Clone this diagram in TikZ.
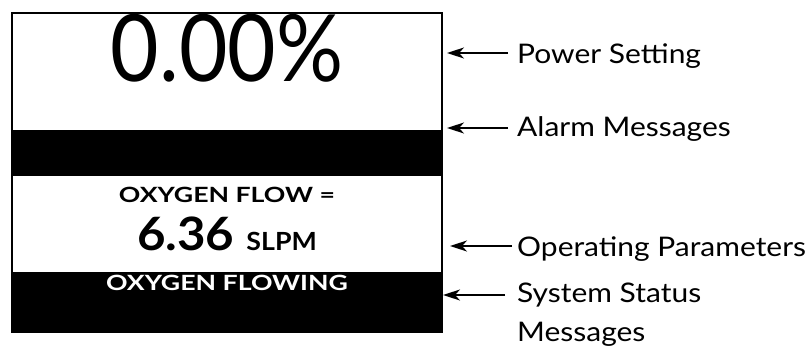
\documentclass[tikz,border=0pt]{standalone}
\usepackage{fontspec}
\setmainfont{Lato}
\usetikzlibrary{arrows.meta}
\newcommand{\hs}[2]{\scalebox{#1}[1]{#2}}
\tikzset{
  lbl/.style={anchor=base west, inner sep=0pt, font=\fontsize{27}{45}\selectfont},
  arr/.style={line width=1.8pt, -{Stealth[length=17pt,width=11pt,inset=5pt]}},
  band/.style={fill=black, draw=none},
  ctr/.style={anchor=base, inner sep=0pt}
}
\begin{document}
\begin{tikzpicture}[x=1pt,y=-1pt]
\useasboundingbox (0,0) rectangle (811,350);
% display
\fill[band] (11,130) rectangle (443,176);
\fill[band] (11,272) rectangle (443,333);
\draw[line width=2pt] (12,13) rectangle (442,332);
% texts
\node[ctr, font=\fontsize{93}{100}\selectfont] (pw) at (227,82) {\hs{0.9}{0.00\%}};
\node[ctr, font=\fontsize{21}{24}\bfseries\selectfont] (of) at (227,202) {\hs{1.27}{OXYGEN FLOW =}};
\node[ctr, font=\bfseries] (val) at (227,250) {\hs{1.07}{\fontsize{46}{50}\selectfont 6.36 \fontsize{25}{28}\selectfont SLPM}};
\node[ctr, text=white, font=\fontsize{21}{24}\bfseries\selectfont] (st) at (227,290) {\hs{1.27}{OXYGEN FLOWING}};
% labels
\node[lbl] (l1) at (517,64) {\hs{1.11}{Power Setting}};
\node[lbl] (l2) at (517,137) {\hs{1.11}{Alarm Messages}};
\node[lbl] (l3) at (517,256) {\hs{1.11}{Operating Parameters}};
\node[lbl] (l4) at (517,302) {\hs{1.11}{System Status}};
\node[lbl] (l5) at (517,341) {\hs{1.11}{Messages}};
\coordinate (a1t) at (508,53); \coordinate (a1h) at (447,53);
\coordinate (a2t) at (508,128); \coordinate (a2h) at (447,128);
\coordinate (a3t) at (512,246); \coordinate (a3h) at (450,246);
\coordinate (a4t) at (505,295); \coordinate (a4h) at (443,295);
\draw[arr] (a1t) -- (a1h);
\draw[arr] (a2t) -- (a2h);
\draw[arr] (a3t) -- (a3h);
\draw[arr] (a4t) -- (a4h);
\end{tikzpicture}
\end{document}
